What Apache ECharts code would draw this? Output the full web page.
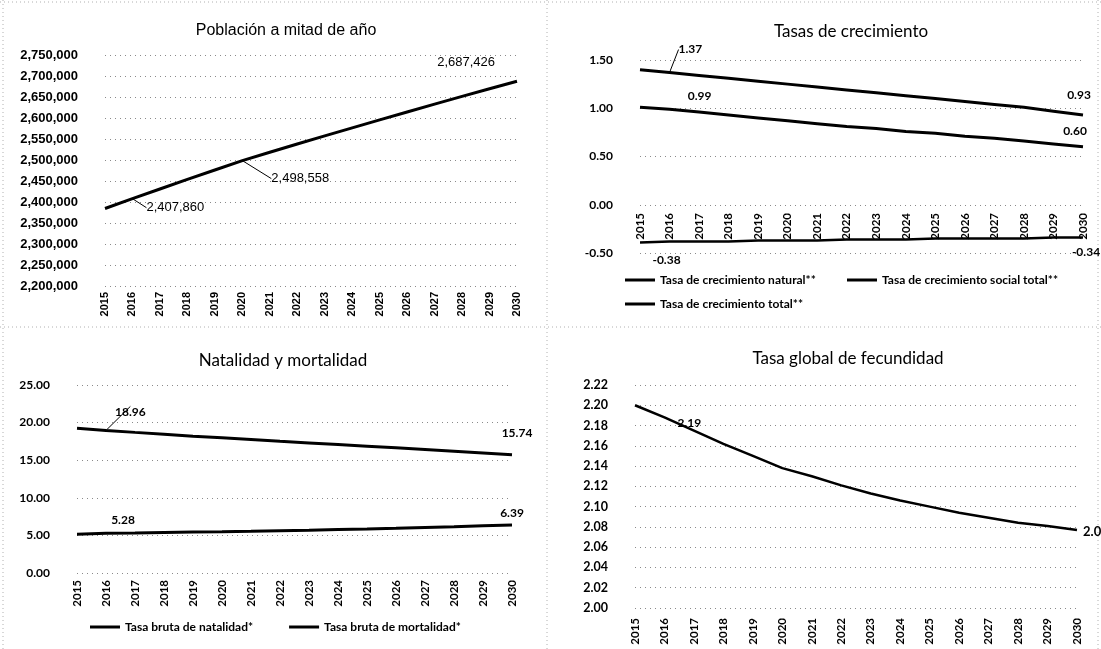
<!DOCTYPE html>
<html>
<head>
<meta charset="utf-8">
<title>Proyecciones de población</title>
<script src="https://cdn.jsdelivr.net/npm/echarts@6/dist/echarts.min.js"></script>
<style>
html, body { margin: 0; padding: 0; background: #fff; }
#chart { width: 1101px; height: 649px; }
</style>
</head>
<body>
<div id="chart"></div>
<script>
// ============================================
// 数据
// ============================================
const years = ['2015', '2016', '2017', '2018', '2019', '2020', '2021', '2022',
  '2023', '2024', '2025', '2026', '2027', '2028', '2029', '2030']

const poblacion = [2384460, 2407860, 2430960, 2453760, 2476260, 2498558, 2518358, 2537958,
  2557358, 2576558, 2595558, 2614358, 2632958, 2651358, 2669558, 2687426]

const crecNatural = [1.40, 1.37, 1.34, 1.31, 1.28, 1.25, 1.22, 1.19, 1.16, 1.13, 1.10, 1.07, 1.04, 1.01, 0.97, 0.93]
const crecSocial = [-0.39, -0.38, -0.38, -0.38, -0.37, -0.37, -0.37, -0.36, -0.36, -0.36, -0.35, -0.35, -0.35, -0.35, -0.34, -0.34]
const crecTotal = [1.01, 0.99, 0.96, 0.93, 0.90, 0.87, 0.84, 0.81, 0.79, 0.76, 0.74, 0.71, 0.69, 0.66, 0.63, 0.60]

const natalidad = [19.25, 18.96, 18.70, 18.45, 18.20, 17.98, 17.75, 17.52, 17.30, 17.08, 16.86, 16.64, 16.42, 16.20, 15.97, 15.74]
const mortalidad = [5.15, 5.28, 5.33, 5.39, 5.45, 5.50, 5.56, 5.63, 5.70, 5.78, 5.86, 5.95, 6.05, 6.15, 6.27, 6.39]

const fecundidad = [2.200, 2.188, 2.175, 2.162, 2.150, 2.138, 2.130, 2.121, 2.113, 2.106, 2.100, 2.094, 2.089, 2.084, 2.081, 2.077]

const titulos = ['Población a mitad de año', 'Tasas de crecimiento', 'Natalidad y mortalidad', 'Tasa global de fecundidad']
const nombresCrec = ['Tasa de crecimiento natural**', 'Tasa de crecimiento social total**', 'Tasa de crecimiento total**']
const nombresNat = ['Tasa bruta de natalidad*', 'Tasa bruta de mortalidad*']

// ============================================
// 样式
// ============================================
const ARIAL = 'Liberation Sans, Arial, sans-serif'
const CALIBRI = 'Lato, sans-serif'
const gridDot = { color: '#8a8a8a', type: [1, 4], width: 1 }

const fmtMiles = v => Math.round(v).toLocaleString('en-US')
const fmt2 = v => Number(v).toFixed(2)

// 仅给指定下标加标签（sinLinea: 不画引导线）
const conEtiquetas = (values, specs) => values.map((v, i) => {
  const s = specs[i]
  if (!s) return v
  const { sinLinea, ...lbl } = s
  const item = { value: v, label: Object.assign({ show: true }, lbl) }
  if (sinLinea) item.labelLine = { show: false }
  return item
})

// labelLayout 的位移表
const desplaza = tabla => p => tabla[p.dataIndex] || {}

const lblArial = { fontFamily: ARIAL, fontSize: 13, color: '#000', formatter: p => fmtMiles(p.value) }
const lblCal = { fontFamily: CALIBRI, fontSize: 12, fontWeight: 'bold', color: '#000', formatter: p => fmt2(p.value) }

const xCat = (gridIndex, font, size, margin, offset) => ({
  type: 'category',
  gridIndex,
  data: years,
  boundaryGap: false,
  offset: offset || 0,
  axisTick: { show: false },
  axisLine: { show: false, onZero: false },
  axisLabel: { rotate: 90, margin, fontFamily: font, fontSize: size, fontWeight: 'bold', color: '#000', interval: 0 }
})

const yVal = (gridIndex, min, max, interval, font, size, formatter) => ({
  type: 'value',
  gridIndex,
  min, max, interval,
  axisLine: { show: false },
  axisTick: { show: false },
  axisLabel: { margin: 27, fontFamily: font, fontSize: size, fontWeight: 'bold', color: '#000', formatter },
  splitLine: { show: true, lineStyle: gridDot }
})

const linea = (name, xi, data, width, extra) => Object.assign({
  name,
  type: 'line',
  xAxisIndex: xi,
  yAxisIndex: xi,
  data,
  symbol: 'circle',
  symbolSize: 0,
  showSymbol: true,
  smooth: false,
  lineStyle: { color: '#000', width },
  itemStyle: { color: '#000' },
  label: { show: false },
  emphasis: { disabled: true }
}, extra || {})

const leader = { show: true, lineStyle: { color: '#000', width: 1 } }

const titulo = (text, x, y, font, size) => ({
  text, left: x, top: y, textAlign: 'center',
  textStyle: { fontFamily: font, fontSize: size, fontWeight: 'normal', color: '#000' }
})

const leyenda = (data, left, top, gap) => ({
  data, left, top, orient: 'horizontal', itemGap: gap || 10, padding: 0,
  icon: 'rect', itemWidth: 30, itemHeight: 3,
  selectedMode: false,
  textStyle: { fontFamily: CALIBRI, fontSize: 12, fontWeight: 'bold', color: '#000' }
})

const borde = (x1, y1, x2, y2) => ({
  type: 'line', silent: true,
  shape: { x1, y1, x2, y2 },
  style: { stroke: '#b0b0b0', lineWidth: 1, lineDash: [1, 3] }
})

// ============================================
// 图表
// ============================================
const chart = echarts.init(document.getElementById('chart'), null, { renderer: 'canvas' })

chart.setOption({
  animation: false,
  backgroundColor: '#fff',
  title: [
    titulo(titulos[0], 281, 18, ARIAL, 16),
    titulo(titulos[1], 846, 18, CALIBRI, 17),
    titulo(titulos[2], 278, 347, CALIBRI, 17),
    titulo(titulos[3], 843, 345, CALIBRI, 17)
  ],
  legend: [
    leyenda([nombresCrec[0]], 625, 274),
    leyenda([nombresCrec[1]], 847, 274),
    leyenda([nombresCrec[2]], 625, 298),
    leyenda(nombresNat, 90, 621, 36)
  ],
  grid: [
    { left: 105, right: 584, top: 55, bottom: 363 },
    { left: 640, right: 18, top: 60, bottom: 396 },
    { left: 77, right: 589, top: 385, bottom: 76 },
    { left: 635, right: 24, top: 385, bottom: 41 }
  ],
  xAxis: [
    xCat(0, ARIAL, 11, 6),
    // 年份标签放在 0 线上
    xCat(1, CALIBRI, 11.5, 8, -48),
    xCat(2, CALIBRI, 11.5, 7),
    xCat(3, CALIBRI, 11.5, 10)
  ],
  yAxis: [
    yVal(0, 2200000, 2750000, 50000, ARIAL, 13, fmtMiles),
    yVal(1, -0.5, 1.5, 0.5, CALIBRI, 12, fmt2),
    yVal(2, 0, 25, 5, CALIBRI, 12, fmt2),
    yVal(3, 2.0, 2.22, 0.02, CALIBRI, 12.5, fmt2)
  ],
  graphic: [
    borde(0, 2, 1101, 2),
    borde(3, 0, 3, 649),
    borde(547, 0, 547, 649),
    borde(0, 327, 1101, 327),
    borde(1098, 0, 1098, 649)
  ],
  series: [
    // [1] 人口
    linea('Población', 0, conEtiquetas(poblacion, {
      1: Object.assign({ position: 'right' }, lblArial),
      5: Object.assign({ position: 'right' }, lblArial),
      15: Object.assign({ position: 'left', sinLinea: true }, lblArial)
    }), 3, {
      labelLine: leader,
      labelLayout: desplaza({ 1: { dx: 9, dy: 9 }, 5: { dx: 24, dy: 18 }, 15: { dx: -17, dy: -19 } })
    }),
    // [2] 增长率
    linea(nombresCrec[0], 1, conEtiquetas(crecNatural, {
      1: Object.assign({ position: 'right' }, lblCal),
      15: Object.assign({ position: 'top', sinLinea: true }, lblCal)
    }), 3, {
      labelLine: leader,
      labelLayout: desplaza({ 1: { dx: 4, dy: -23 }, 15: { dx: -4, dy: -9 } })
    }),
    linea(nombresCrec[1], 1, conEtiquetas(crecSocial, {
      1: Object.assign({ position: 'bottom', offset: [-3, 8] }, lblCal),
      15: Object.assign({ position: 'bottom', offset: [3, 4] }, lblCal)
    }), 2.5),
    linea(nombresCrec[2], 1, conEtiquetas(crecTotal, {
      1: Object.assign({ position: 'top', offset: [30, -2] }, lblCal),
      15: Object.assign({ position: 'top', offset: [-8, -5] }, lblCal)
    }), 3),
    // [3] 出生率 / 死亡率
    linea(nombresNat[0], 2, conEtiquetas(natalidad, {
      1: Object.assign({ position: 'right' }, lblCal),
      15: Object.assign({ position: 'top', sinLinea: true }, lblCal)
    }), 3, {
      labelLine: leader,
      labelLayout: desplaza({ 1: { dx: 4, dy: -18 }, 15: { dx: 5, dy: -11 } })
    }),
    linea(nombresNat[1], 2, conEtiquetas(mortalidad, {
      1: Object.assign({ position: 'top', offset: [17, -2] }, lblCal),
      15: Object.assign({ position: 'top', offset: [0, -1] }, lblCal)
    }), 3),
    // [4] 生育率
    linea('Tasa global de fecundidad', 3, conEtiquetas(fecundidad, {
      1: Object.assign({ position: 'right', offset: [8, 6] }, lblCal),
      15: Object.assign({ position: 'right', offset: [1, 2] }, lblCal, { fontSize: 13 })
    }), 2.5)
  ]
})

window.addEventListener('resize', () => chart.resize())
</script>
</body>
</html>
